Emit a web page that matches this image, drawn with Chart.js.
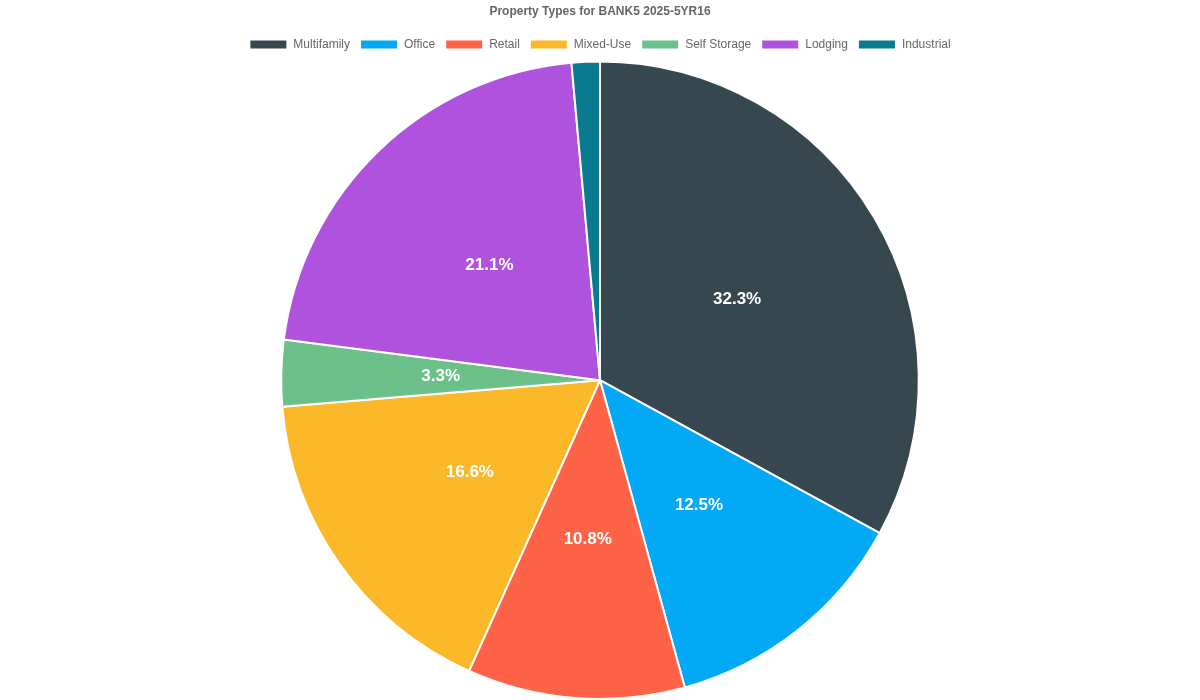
<!DOCTYPE html>
<html><head><meta charset="utf-8">
<script src="https://cdn.jsdelivr.net/npm/chart.js@4"></script>
<style>html,body{margin:0;background:#fff}#w{width:1200px;height:700px}</style>
</head><body><div id="w"><canvas id="c"></canvas></div>
<script>
const categories=["Multifamily","Office","Retail","Mixed-Use","Self Storage","Lodging","Industrial"];
const values=[32.3,12.5,10.8,16.6,3.3,21.1,1.4];
const colors=["#37474f","#03a9f4","#ff6347","#fbb829","#6cc18a","#af52de","#0a7b8f"];
const labelPlugin={id:"lbl",afterDatasetsDraw(chart){
 const ctx=chart.ctx;const meta=chart.getDatasetMeta(0);
 ctx.save();ctx.font="bold 17px Arial, 'Liberation Sans'";ctx.fillStyle="#fff";ctx.textAlign="center";ctx.textBaseline="middle";
 meta.data.forEach((a,i)=>{const v=values[i];if(v<2)return;
  const p=a.tooltipPosition();ctx.fillText(v.toFixed(1)+"%",p.x,p.y);});
 ctx.restore();}};
new Chart(document.getElementById("c"),{type:"pie",
 data:{labels:categories,datasets:[{data:values,backgroundColor:colors,borderColor:"#fff",borderWidth:2}]},
 options:{responsive:true,maintainAspectRatio:false,animation:false,
  layout:{padding:{bottom:0}},
  plugins:{title:{display:true,text:"Property Types for BANK5 2025-5YR16",color:"#666",font:{size:12,weight:"bold",family:"Arial, 'Liberation Sans'"},padding:{top:4,bottom:10}},
   legend:{labels:{boxWidth:38,boxHeight:10,color:"#666",font:{size:12,family:"Arial, 'Liberation Sans'"}}},tooltip:{enabled:false}}},
 plugins:[labelPlugin]});
</script></body></html>
